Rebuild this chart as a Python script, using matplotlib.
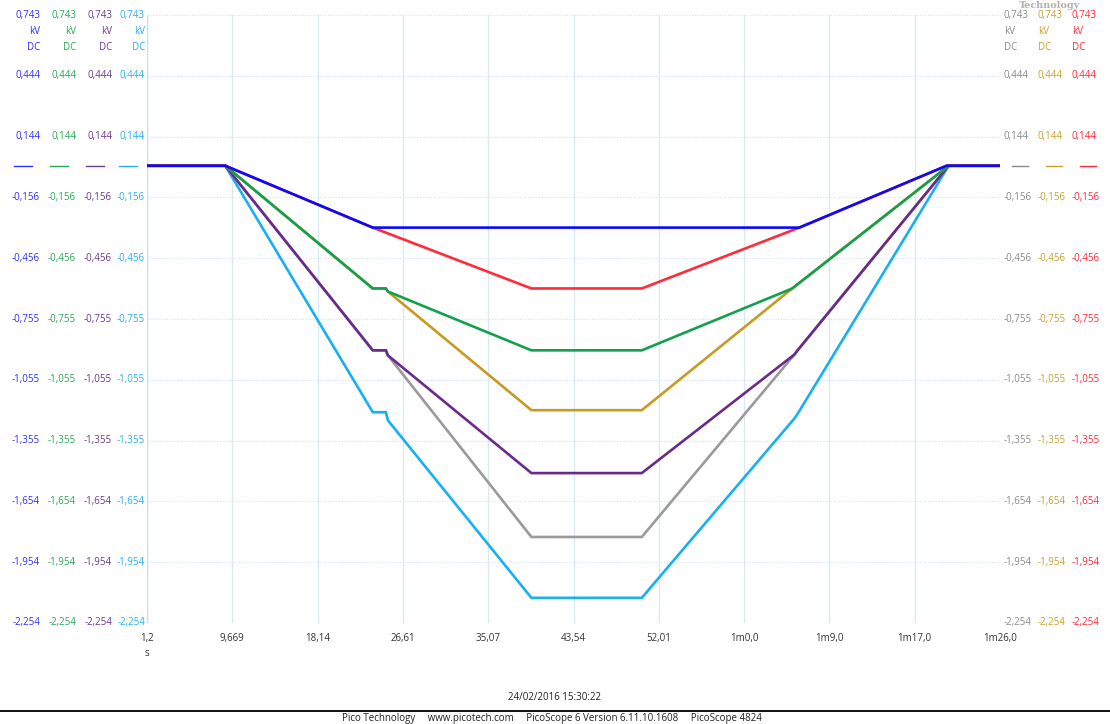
import matplotlib
matplotlib.use("Agg")
import matplotlib.pyplot as plt
from matplotlib.transforms import blended_transform_factory

plt.rcParams["font.family"] = ["Open Sans", "DejaVu Sans"]

# Time axis (s) and tick labels
x_ticks = [1.2 + 8.47 * k for k in range(11)]
x_ticklabels = ["1,2", "9,669", "18,14", "26,61", "35,07", "43,54",
                "52,01", "1m0,0", "1m9,0", "1m17,0", "1m26,0"]

# Voltage axis (kV) and tick labels
y_ticks = [0.743 - 0.2997 * k for k in range(11)]
y_ticklabels = ["0,743", "0,444", "0,144", "-0,156", "-0,456", "-0,755",
                "-1,055", "-1,355", "-1,654", "-1,954", "-2,254"]

# Channel traces: breakpoints of the ramp profiles (time s, kV)
t_blue = [1.2, 8.97, 23.62, 65.97, 80.6, 85.9]
v_blue = [0.0, 0.0, -0.305, -0.305, 0.0, 0.0]

t_red = [1.2, 8.97, 23.62, 39.37, 50.33, 65.97, 80.6, 85.9]
v_red = [0.0, 0.0, -0.305, -0.605, -0.605, -0.305, 0.0, 0.0]

t_green = [1.2, 8.97, 23.62, 24.92, 25.12, 39.37, 50.33, 65.27, 80.8, 85.9]
v_green = [0.0, 0.0, -0.605, -0.605, -0.62, -0.91, -0.91, -0.605, 0.0, 0.0]

t_gold = [1.2, 8.97, 23.62, 24.92, 25.12, 39.37, 50.33, 65.27, 80.8, 85.9]
v_gold = [0.0, 0.0, -0.605, -0.605, -0.62, -1.205, -1.205, -0.605, 0.0, 0.0]

t_purple = [1.2, 8.97, 23.62, 24.92, 25.12, 39.37, 50.33, 65.5, 65.8, 80.8, 85.9]
v_purple = [0.0, 0.0, -0.91, -0.91, -0.935, -1.515, -1.515, -0.93, -0.91, 0.0, 0.0]

t_gray = [1.2, 8.97, 23.62, 24.92, 25.12, 39.37, 50.33, 65.5, 65.8, 80.8, 85.9]
v_gray = [0.0, 0.0, -0.91, -0.91, -0.935, -1.83, -1.83, -0.93, -0.91, 0.0, 0.0]

t_cyan = [1.2, 8.97, 23.62, 24.92, 25.12, 39.37, 50.33, 65.5, 65.9, 80.8, 85.9]
v_cyan = [0.0, 0.0, -1.215, -1.215, -1.255, -2.13, -2.13, -1.245, -1.215, 0.0, 0.0]

c_blue = "#0a0aff"
c_red = "#ff2a3a"
c_green = "#12a04e"
c_gold = "#c89a22"
c_purple = "#6a2a8a"
c_gray = "#9a9a9a"
c_cyan = "#18b0f0"

fig = plt.figure(figsize=(11.1, 7.24), dpi=100)
ax = fig.add_axes([147 / 1110, 1 - 623 / 724, 853 / 1110, 608 / 724])

# Draw bottom trace first so blue ends on top
traces = [(t_cyan, v_cyan, c_cyan), (t_gray, v_gray, c_gray),
          (t_purple, v_purple, c_purple), (t_gold, v_gold, c_gold),
          (t_green, v_green, c_green), (t_red, v_red, c_red),
          (t_blue, v_blue, c_blue)]
for t, v, c in traces:
    ax.plot(t, v, color=c, lw=1.9, solid_joinstyle="miter")

ax.set_xlim(x_ticks[0], x_ticks[-1])
ax.set_ylim(y_ticks[-1], y_ticks[0])
ax.set_xticks(x_ticks)
ax.set_yticks(y_ticks)
ax.tick_params(length=0, labelleft=False, labelbottom=False)
for s in ax.spines.values():
    s.set_visible(False)
for x in x_ticks:
    ax.axvline(x, color="#d6e9f5", lw=0.9, zorder=0)
for y in y_ticks:
    ax.axhline(y, color="#cfe3f0", lw=0.8, ls=(0, (1, 1.5)), zorder=0)
ax.axvline(x_ticks[0], color="#c5e0f2", lw=1.0, zorder=0)

# X tick labels
tx = blended_transform_factory(ax.transData, fig.transFigure)
for x, lab in zip(x_ticks, x_ticklabels):
    ax.text(x, 1 - 638 / 724, lab, transform=tx, ha="center", va="center",
            fontsize=7, color="#333333")
ax.text(x_ticks[0], 1 - 654 / 724, "s", transform=tx, ha="center", va="center",
        fontsize=7, color="#333333")

# Y tick label columns, one per channel
ty = blended_transform_factory(fig.transFigure, ax.transData)
px_kv = 608 / 2.997
left_cols = [(40, "#3030ff"), (76, "#2aa858"), (112, "#6b3b8b"), (145, "#2ab0f0")]
right_cols = [(1004, "#8a8a8a"), (1038, "#c9a030"), (1072, "#ff2a3a")]


def column(xpx, color, ha):
    xf = xpx / 1110
    for y, lab in zip(y_ticks, y_ticklabels):
        ax.text(xf, y, lab, transform=ty, ha=ha, va="center", fontsize=7,
                color=color, clip_on=False)
    for k, unit in enumerate(["kV", "DC"]):
        ax.text(xf, y_ticks[0] - 16 * (k + 1) / px_kv, unit, transform=ty,
                ha=ha, va="center", fontsize=7, color=color, clip_on=False)


for xpx, color in left_cols:
    column(xpx, color, "right")
    ax.plot([(xpx - 26) / 1110, (xpx - 8) / 1110], [0, 0], transform=ty,
            color=color, lw=1.0, clip_on=False)
for xpx, color in right_cols:
    column(xpx, color, "left")
    ax.plot([(xpx + 8) / 1110, (xpx + 24) / 1110], [0, 0], transform=ty,
            color=color, lw=1.0, clip_on=False)

fig.text(1050 / 1110, 1 - 1 / 724, "Technology", ha="center", va="top",
         fontsize=7, fontweight="bold", family="DejaVu Serif", color="#b0b0b0")

# Footer
fig.text(555 / 1110, 1 - 698 / 724, "24/02/2016 15:30:22", ha="center",
         va="center", fontsize=7, color="#222222")
fig.add_artist(plt.Line2D([0, 1], [1 - 711 / 724] * 2, transform=fig.transFigure,
                          color="#111111", lw=1.4))
fig.text(552 / 1110, 1 - 718 / 724,
         "Pico Technology     www.picotech.com     PicoScope 6 Version 6.11.10.1608     PicoScope 4824",
         ha="center", va="center", fontsize=7, color="#222222")

fig.savefig("out.png", dpi=100)
